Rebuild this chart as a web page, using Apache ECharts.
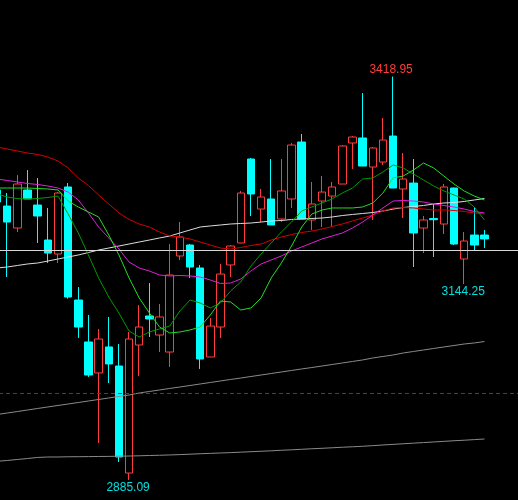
<!DOCTYPE html>
<html>
<head>
<meta charset="utf-8">
<script src="https://cdn.jsdelivr.net/npm/echarts@6/dist/echarts.min.js"></script>
<style>
html,body{margin:0;padding:0;background:#000;}
#chart{width:518px;height:500px;}
</style>
</head>
<body>
<div id="chart"></div>
<script>
const categories = ['1','2','3','4','5','6','7','8','9','10','11','12','13','14','15','16','17','18','19','20','21','22','23','24','25','26','27','28','29','30','31','32','33','34','35','36','37','38','39','40','41','42','43','44','45','46','47','48','49','50','51','52'];

// [open, close, low, high]
const candles = [
  [3268.8, 3252.9, 3247.6, 3274.1],
  [3247.6, 3226.4, 3153.7, 3264.8],
  [3218.5, 3276.7, 3213.2, 3288.6],
  [3268.8, 3256.9, 3256.9, 3295.2],
  [3248.9, 3234.4, 3198.7, 3284.7],
  [3202.6, 3185.4, 3172.2, 3245.0],
  [3184.1, 3264.8, 3172.2, 3266.1],
  [3272.8, 3127.2, 3125.0, 3278.0],
  [3123.2, 3087.5, 3073.0, 3140.4],
  [3067.7, 3024.0, 3021.4, 3103.4],
  [3026.7, 3071.6, 2934.0, 3084.9],
  [3061.1, 3038.6, 3013.4, 3100.8],
  [3035.9, 2915.5, 2908.9, 3065.0],
  [2894.3, 3071.6, 2885.09, 3080.9],
  [3063.7, 3087.5, 3022.7, 3116.6],
  [3102.1, 3098.1, 3074.3, 3145.7],
  [3076.9, 3100.8, 3054.4, 3118.0],
  [3054.4, 3156.3, 3034.6, 3197.3],
  [3181.5, 3206.6, 3176.2, 3226.4],
  [3196.0, 3166.9, 3152.4, 3197.3],
  [3165.6, 3045.2, 3032.0, 3169.6],
  [3047.8, 3088.8, 3047.8, 3099.4],
  [3087.5, 3157.6, 3073.0, 3170.9],
  [3169.6, 3194.7, 3153.7, 3196.0],
  [3198.7, 3264.8, 3198.7, 3267.5],
  [3309.8, 3263.5, 3234.4, 3311.1],
  [3243.6, 3259.5, 3226.4, 3270.1],
  [3256.9, 3222.5, 3222.5, 3309.8],
  [3230.4, 3267.5, 3226.4, 3309.8],
  [3256.9, 3328.3, 3245.0, 3331.0],
  [3332.3, 3230.4, 3230.4, 3342.9],
  [3229.1, 3250.3, 3215.9, 3279.4],
  [3254.2, 3266.1, 3219.8, 3287.3],
  [3260.8, 3272.8, 3219.8, 3279.4],
  [3276.7, 3327.0, 3276.7, 3328.3],
  [3331.0, 3338.9, 3296.6, 3340.2],
  [3337.6, 3300.5, 3300.5, 3397.1],
  [3299.2, 3324.4, 3229.1, 3325.7],
  [3305.8, 3334.9, 3301.9, 3364.0],
  [3340.2, 3271.4, 3271.4, 3418.95],
  [3270.1, 3283.3, 3231.7, 3317.7],
  [3278.0, 3211.9, 3166.9, 3309.8],
  [3218.5, 3229.1, 3185.4, 3234.4],
  [3231.0, 3229.5, 3180.1, 3250.3],
  [3223.8, 3272.8, 3210.6, 3276.7],
  [3271.4, 3197.3, 3196.0, 3272.0],
  [3177.5, 3201.3, 3144.25, 3213.2],
  [3209.2, 3196.0, 3189.4, 3246.3],
  [3209.2, 3204.0, 3192.0, 3215.9]
];

const maRed = [3325.7,3323.0,3320.4,3317.7,3315.8,3312.4,3307.2,3297.9,3284.7,3274.7,3262.2,3250.3,3238.4,3229.8,3223.8,3219.8,3213.2,3207.9,3206.6,3204.0,3200.0,3196.0,3192.0,3190.7,3192.7,3195.4,3197.3,3202.6,3206.6,3209.9,3212.6,3214.5,3217.2,3220.5,3223.8,3227.8,3231.7,3235.7,3241.0,3245.0,3245.6,3245.0,3243.6,3242.3,3242.3,3241.7,3240.3,3238.4,3237.0];

const maMagenta = [3283.3,3281.4,3279.4,3277.4,3276.1,3274.1,3271.4,3266.1,3255.6,3238.4,3219.8,3205.3,3190.7,3173.5,3165.6,3161.6,3156.3,3155.0,3155.7,3155.0,3153.7,3149.7,3145.1,3145.7,3151.0,3161.6,3170.9,3176.2,3181.5,3188.1,3193.4,3198.7,3204.0,3207.9,3211.9,3218.5,3226.4,3235.7,3245.0,3254.2,3254.9,3254.2,3252.9,3250.3,3248.3,3246.3,3243.6,3240.3,3238.4];

const maGreen = [3271.4,3271.4,3271.4,3271.4,3270.8,3270.1,3268.8,3254.2,3246.3,3239.7,3233.1,3209.2,3182.8,3152.4,3125.9,3106.0,3087.5,3079.6,3080.9,3083.6,3087.5,3103.4,3121.9,3120.6,3110.0,3112.7,3125.9,3152.4,3172.2,3194.7,3219.8,3237.0,3242.3,3245.0,3245.0,3245.0,3246.3,3251.6,3264.8,3284.7,3287.3,3295.2,3304.5,3297.9,3287.3,3276.7,3267.5,3260.8,3255.6];

const maDarkGreen = [3263.5,3259.5,3257.5,3256.9,3257.5,3258.9,3260.8,3237.0,3211.9,3182.8,3152.4,3127.2,3106.0,3082.2,3074.3,3080.9,3084.9,3088.8,3108.7,3123.2,3119.3,3112.7,3119.3,3135.2,3147.1,3168.2,3184.1,3198.7,3213.2,3226.4,3241.0,3246.3,3251.6,3256.9,3264.8,3271.4,3283.3,3284.7,3292.6,3301.9,3297.9,3290.0,3282.0,3274.1,3267.5,3262.2,3256.9,3246.3,3229.1];

const maWhite = [3165.6,3166.9,3168.9,3170.9,3172.2,3174.8,3177.5,3180.1,3182.8,3186.1,3189.4,3192.0,3194.7,3197.3,3200.0,3202.6,3205.3,3207.9,3211.9,3215.9,3219.8,3221.2,3222.5,3223.8,3224.5,3225.1,3226.4,3227.8,3228.4,3229.8,3230.4,3231.1,3231.7,3233.1,3235.0,3236.4,3237.7,3239.0,3241.0,3243.6,3245.6,3247.0,3248.3,3250.3,3251.6,3252.2,3253.6,3255.6,3257.5];

const maGrey1 = [2971.7,2973.7,2975.7,2977.7,2979.7,2981.7,2983.7,2985.6,2987.6,2989.6,2991.6,2993.6,2995.6,2997.5,3000.2,3002.2,3004.2,3006.2,3008.1,3010.1,3012.1,3014.1,3016.1,3018.1,3020.0,3022.0,3024.0,3026.0,3028.0,3030.0,3032.0,3033.9,3035.9,3037.9,3039.9,3041.9,3043.9,3046.5,3048.5,3050.5,3053.1,3055.1,3057.1,3059.1,3061.1,3063.0,3065.0,3066.4,3068.3];

const maGrey2 = [2909.8,2910.9,2912.2,2913.5,2914.9,2915.5,2915.5,2915.8,2915.9,2916.0,2916.2,2916.3,2916.6,2916.8,2917.1,2917.5,2917.8,2918.2,2918.7,2919.2,2919.8,2920.3,2920.8,2921.3,2921.9,2922.5,2923.1,2923.7,2924.4,2925.0,2925.7,2926.4,2927.0,2927.7,2928.4,2929.0,2929.7,2930.5,2931.4,2932.2,2933.0,2933.8,2934.6,2935.4,2936.2,2937.0,2937.7,2938.5,2939.3];

const refLines = [3000, 3189.4];
// [category index, price, label]
const extremeMarks = [[39, 3418.95, '3418.95'], [46, 3144.25, '3144.25'], [13, 2885.09, '2885.09']];

const chart = echarts.init(document.getElementById('chart'), null, {renderer: 'canvas'});

function lineSeries(data, color, z) {
  return {
    type: 'line', data: data, showSymbol: false, symbol: 'none', smooth: false,
    lineStyle: {color: color, width: 1}, z: z || 3, silent: true
  };
}

const option = {
  animation: false,
  backgroundColor: '#000000',
  grid: {left: -8, right: -2, top: 0, bottom: 0, containLabel: false, outerBoundsMode: 'none'},
  xAxis: {
    type: 'category', data: categories, boundaryGap: true,
    axisLine: {show: false}, axisTick: {show: false}, axisLabel: {show: false}, splitLine: {show: false}
  },
  yAxis: {
    type: 'value', min: 2858.6, max: 3520.2, scale: true,
    axisLine: {show: false}, axisTick: {show: false}, axisLabel: {show: false}, splitLine: {show: false}
  },
  series: [
    {
      type: 'line', data: [], silent: true,
      markLine: {
        symbol: ['none', 'none'], silent: true, animation: false,
        label: {show: false},
        data: [
          {yAxis: refLines[0], lineStyle: {color: '#b01818', type: [4, 3], width: 1}},
          {yAxis: refLines[1], lineStyle: {color: '#d8d8d8', type: 'solid', width: 1}}
        ]
      }
    },
    {
      type: 'candlestick', data: candles, barWidth: 8, z: 2,
      itemStyle: {
        color: '#000000', color0: '#00ffff',
        borderColor: '#ff3c3c', borderColor0: '#00ffff', borderWidth: 1
      },
      markPoint: {
        symbol: 'circle', symbolSize: 0, silent: true, animation: false,
        data: [
          {coord: [extremeMarks[0][0], extremeMarks[0][1]], value: extremeMarks[0][2],
           label: {show: true, formatter: extremeMarks[0][2], color: '#ff3c3c', position: [-2, -6.5], align: 'center', verticalAlign: 'middle'}},
          {coord: [extremeMarks[1][0], extremeMarks[1][1]], value: extremeMarks[1][2],
           label: {show: true, formatter: extremeMarks[1][2], color: '#00e0e0', position: [-1, 7.5], align: 'center', verticalAlign: 'middle'}},
          {coord: [extremeMarks[2][0], extremeMarks[2][1]], value: extremeMarks[2][2],
           label: {show: true, formatter: extremeMarks[2][2], color: '#00e0e0', position: [-1, 7.5], align: 'center', verticalAlign: 'middle'}}
        ],
        label: {fontFamily: 'Liberation Sans, Arial, sans-serif', fontSize: 12}
      }
    },
    lineSeries(maGrey2, '#8a8a8a'),
    lineSeries(maGrey1, '#8a8a8a'),
    lineSeries(maWhite, '#dcdcdc'),
    lineSeries(maRed, '#d40000'),
    lineSeries(maMagenta, '#e020d8'),
    lineSeries(maDarkGreen, '#009a00'),
    lineSeries(maGreen, '#22dd22')
  ]
};
chart.setOption(option);
</script>
</body>
</html>
